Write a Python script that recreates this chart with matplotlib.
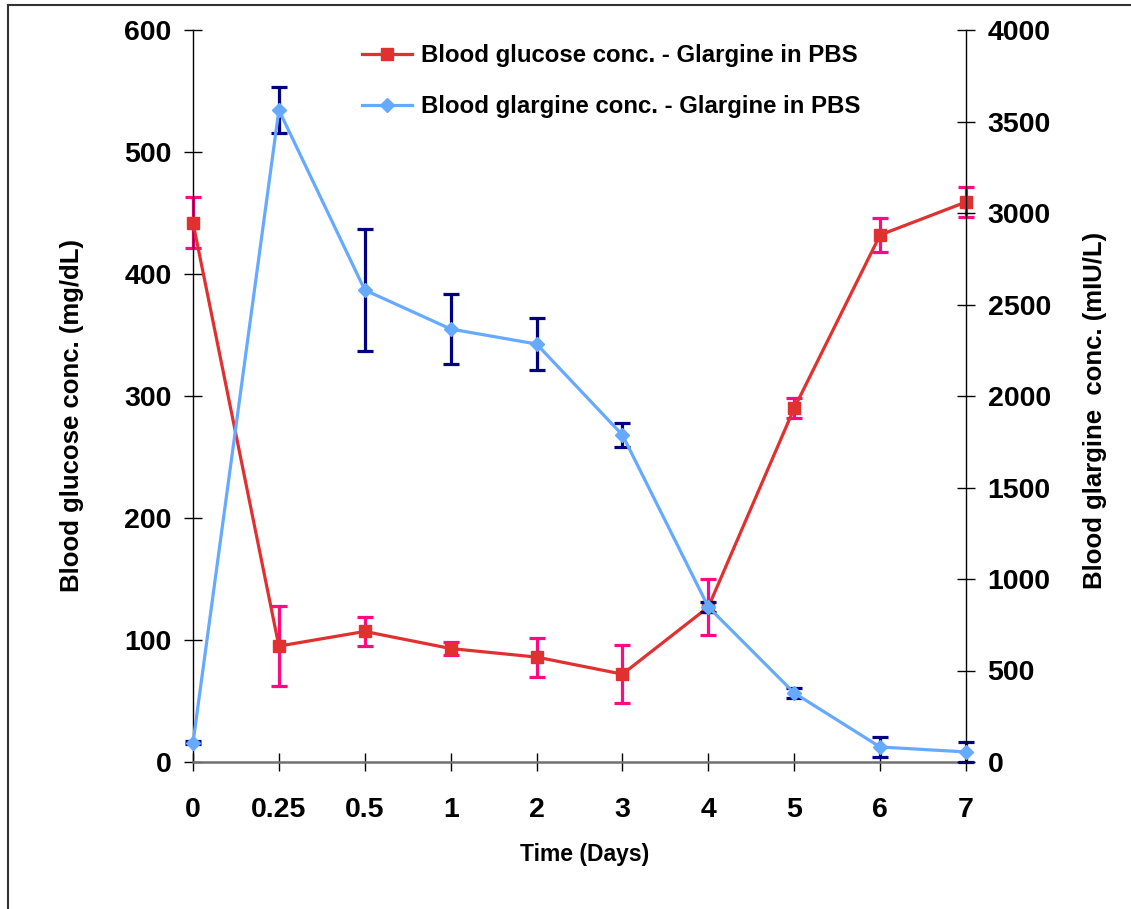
import matplotlib
matplotlib.use("Agg")
import matplotlib.pyplot as plt
from matplotlib.lines import Line2D

plt.rcParams['font.family'] = ['Liberation Sans', 'DejaVu Sans']
plt.rcParams['font.weight'] = 'bold'

time_labels = ["0", "0.25", "0.5", "1", "2", "3", "4", "5", "6", "7"]
glucose = [442, 95, 107, 93, 86, 72, 127, 290, 432, 459]
glucose_err = [21, 33, 12, 5, 16, 24, 23, 8, 14, 12]
glargine = [105, 3563, 2579, 2366, 2284, 1787, 847, 377, 82, 55]
glargine_err = [8, 125, 333, 190, 140, 63, 27, 30, 57, 55]

label_glucose = "Blood glucose conc. - Glargine in PBS"
label_glargine = "Blood glargine conc. - Glargine in PBS"

RED = "#E03030"
PINK = "#FF0A80"
BLUE = "#66AAFF"
NAVY = "#000080"

W, H = 1131, 909
fig = plt.figure(figsize=(W / 100, H / 100), dpi=100)
ax = fig.add_axes([193 / W, 1 - 762 / H, (966 - 193) / W, (762 - 30) / H])
ax2 = ax.twinx()

x = list(range(len(time_labels)))

ax.errorbar(x, glucose, yerr=glucose_err, fmt='none', ecolor=PINK,
            elinewidth=2.3, capsize=5.8, capthick=2.3, zorder=2, clip_on=False)
ax.plot(x, glucose, color=RED, lw=2.3, marker='s', ms=8, mfc=RED, mec=RED,
        zorder=3, clip_on=False)

ax2.errorbar(x, glargine, yerr=glargine_err, fmt='none', ecolor=NAVY,
             elinewidth=2.3, capsize=5.8, capthick=2.3, zorder=2, clip_on=False)
ax2.plot(x, glargine, color=BLUE, lw=2.3, marker='D', ms=7.5, mfc=BLUE, mec=BLUE,
         zorder=3, clip_on=False)

ax.set_xlim(0, len(x) - 1)
ax.set_ylim(0, 600)
ax2.set_ylim(0, 4000)
ax.set_xticks(x)
ax.set_xticklabels(time_labels)
ax.set_yticks(range(0, 601, 100))
ax2.set_yticks(range(0, 4001, 500))

for a in (ax, ax2):
    a.spines['top'].set_visible(False)
    a.patch.set_visible(False)
ax.spines['right'].set_visible(False)
ax2.spines['left'].set_visible(False)
ax2.spines['bottom'].set_visible(False)
ax.spines['left'].set_linewidth(1.0)
ax2.spines['right'].set_linewidth(1.0)
ax.spines['bottom'].set_linewidth(1.8)
ax.spines['bottom'].set_color('#707070')

ax.tick_params(axis='y', direction='inout', length=13, width=1, labelsize=20.5, pad=9)
ax2.tick_params(axis='y', direction='inout', length=13, width=1, labelsize=20.5, pad=9)
ax.tick_params(axis='x', direction='inout', length=13, width=1, labelsize=20.5, pad=19)
for lab in ax.get_xticklabels() + ax.get_yticklabels() + ax2.get_yticklabels():
    lab.set_fontweight('bold')

fig.text(585 / W, 1 - 855 / H, "Time (Days)", ha='center', va='center',
         fontsize=16.5, fontweight='bold')
fig.text(72 / W, 1 - 416 / H, "Blood glucose conc. (mg/dL)", rotation=90,
         ha='center', va='center', fontsize=18.5, fontweight='bold')
fig.text(1095 / W, 1 - 410 / H, "Blood glargine  conc. (mIU/L)", rotation=90,
         ha='center', va='center', fontsize=18.5, fontweight='bold')

handles = [Line2D([], [], color=RED, lw=2.3, marker='s', ms=8),
           Line2D([], [], color=BLUE, lw=2.3, marker='D', ms=7.5)]
leg = ax2.legend(handles, [label_glucose, label_glargine], loc='upper left',
                 bbox_to_anchor=(362 / W, 1 - 44 / H), bbox_transform=fig.transFigure,
                 frameon=False, borderpad=0, borderaxespad=0, handlelength=2.1,
                 handletextpad=0.35, labelspacing=1.17,
                 prop={'size': 17.3, 'weight': 'bold'})

# figure border lines (top and left)
fig.add_artist(Line2D([8 / W, 1], [1 - 5 / H, 1 - 5 / H], transform=fig.transFigure,
                      color='#333333', lw=1.5))
fig.add_artist(Line2D([8 / W, 8 / W], [0, 1 - 5 / H], transform=fig.transFigure,
                      color='#333333', lw=1.5))

fig.savefig("out.png", dpi=100)
